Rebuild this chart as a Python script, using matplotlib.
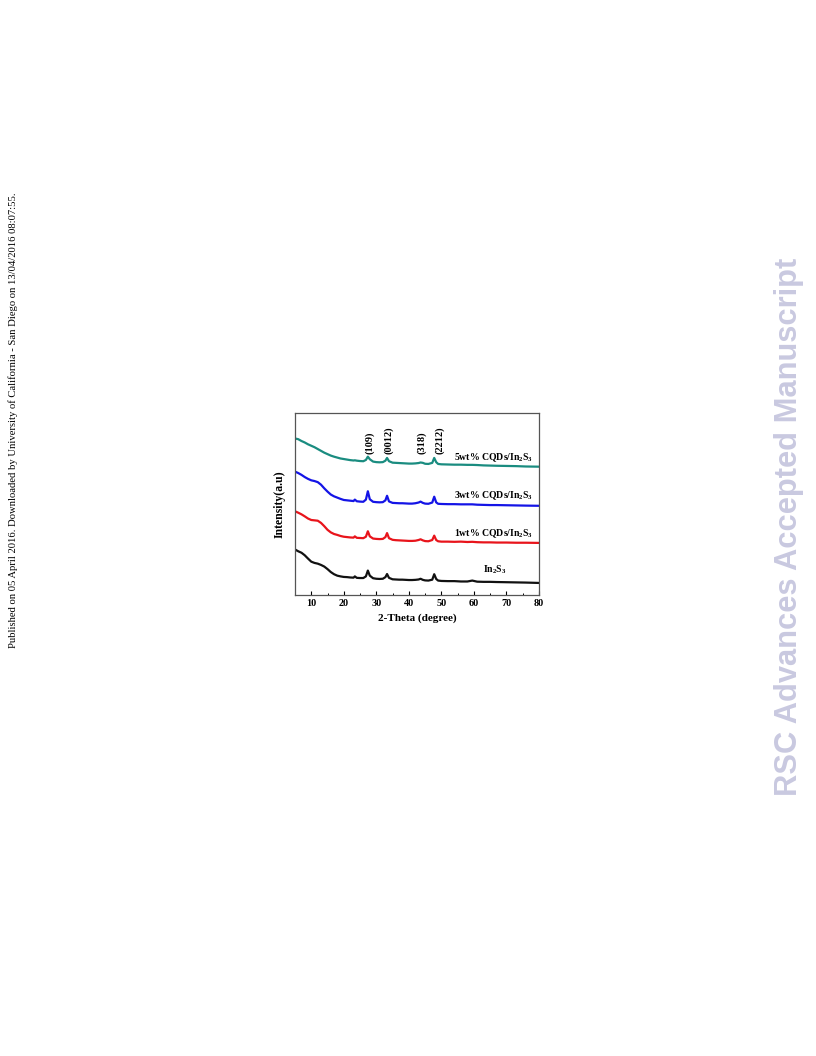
import matplotlib
matplotlib.use("Agg")
import matplotlib.pyplot as plt
from matplotlib.ticker import MultipleLocator

# 2-theta grid (degree)
two_theta = [5, 6, 7, 8, 9, 10, 11, 12, 13, 14, 15, 16, 17, 18, 19, 20, 21, 22, 23,
             23.4, 24, 25, 26, 26.8, 27.4, 28, 29, 30, 31, 32, 32.8, 33.3, 33.9,
             35, 36, 37, 38, 39, 40, 41, 42, 43, 43.6, 44.3, 45, 46, 47.2, 47.8, 48.4,
             49, 50, 52, 54, 56, 58, 59.5, 61, 63, 65, 67, 70, 73, 76, 80]

# intensity (a.u., stacked)
in2s3 = [25.0, 24.0, 23.2, 21.8, 20.0, 18.3, 17.6, 17.2, 16.5, 15.6, 14.2, 12.6, 11.4, 10.6, 10.2, 9.9, 9.8, 9.6, 9.5,
         10.2, 9.4, 9.3, 9.3, 10.2, 13.4, 10.6, 9.2, 8.9, 8.8, 8.9, 9.8, 11.5, 9.4,
         8.6, 8.5, 8.4, 8.4, 8.3, 8.2, 8.2, 8.3, 8.5, 8.9, 8.3, 8.0, 7.9, 8.4, 11.4, 8.8,
         7.9, 7.7, 7.6, 7.6, 7.4, 7.4, 7.9, 7.3, 7.2, 7.2, 7.1, 7.0, 6.9, 6.8, 6.6]
cqd1 = [46.0, 45.2, 44.3, 43.2, 42.0, 41.2, 41.0, 40.8, 39.6, 37.8, 35.8, 34.4, 33.5, 33.0, 32.4, 32.0, 31.8, 31.6, 31.5,
        32.2, 31.4, 31.3, 31.2, 32.0, 35.0, 32.2, 31.0, 30.8, 30.7, 30.8, 31.8, 34.0, 31.2,
        30.3, 30.1, 30.0, 29.9, 29.8, 29.7, 29.7, 29.8, 30.2, 30.6, 30.0, 29.6, 29.5, 30.2, 32.6, 30.2,
        29.5, 29.3, 29.3, 29.2, 29.3, 29.1, 29.2, 29.0, 28.9, 28.9, 28.8, 28.8, 28.7, 28.7, 28.6]
cqd3 = [67.8, 67.0, 66.0, 64.8, 63.8, 63.0, 62.6, 62.0, 60.6, 58.6, 56.8, 55.2, 54.2, 53.5, 52.8, 52.2, 52.0, 51.8, 51.6,
        52.4, 51.5, 51.3, 51.2, 52.4, 57.0, 52.6, 51.2, 51.0, 50.9, 51.0, 52.0, 54.5, 51.4,
        50.6, 50.5, 50.4, 50.4, 50.3, 50.2, 50.2, 50.4, 50.8, 51.3, 50.6, 50.2, 50.1, 50.8, 54.0, 50.9,
        50.1, 50.0, 49.9, 49.9, 49.8, 49.8, 49.8, 49.6, 49.5, 49.4, 49.4, 49.3, 49.2, 49.1, 49.0]
cqd5 = [86.0, 85.6, 84.6, 83.8, 82.8, 82.0, 81.2, 80.2, 79.2, 78.2, 77.4, 76.6, 76.0, 75.5, 75.0, 74.7, 74.4, 74.1, 73.9,
        74.0, 73.8, 73.6, 73.5, 74.2, 76.0, 74.6, 73.3, 73.0, 72.9, 73.0, 73.8, 75.3, 73.5,
        72.7, 72.6, 72.5, 72.4, 72.3, 72.2, 72.2, 72.3, 72.5, 72.8, 72.6, 72.1, 72.0, 72.6, 75.3, 73.0,
        72.0, 71.8, 71.7, 71.6, 71.6, 71.5, 71.5, 71.4, 71.2, 71.1, 71.0, 70.9, 70.8, 70.6, 70.5]

series = [in2s3, cqd1, cqd3, cqd5]
colors = ['#111111', '#e8141b', '#1414e6', '#1a8c80']
labels = ['In$_2$S$_3$', '1wt% CQDs/In$_2$S$_3$', '3wt% CQDs/In$_2$S$_3$', '5wt% CQDs/In$_2$S$_3$']
label_pos = [(66.3, 13.8, 'center'), (78.2, 33.4, 'right'), (78.2, 54.4, 'right'), (78.2, 75.7, 'right')]

peak_labels = ['(109)', '(0012)', '(318)', '(2212)']
peak_x = [27.9, 33.7, 43.8, 49.4]

plt.rcParams['font.family'] = ['Liberation Serif', 'DejaVu Serif']
plt.rcParams['mathtext.fontset'] = 'custom'
plt.rcParams['mathtext.rm'] = 'Liberation Serif:bold'
plt.rcParams['mathtext.default'] = 'rm'

fig = plt.figure(figsize=(8.16, 10.56), dpi=100)
ax = fig.add_axes([0.3615, 0.4366, 0.299, 0.1723])

for ys, c in zip(series, colors):
    ax.plot(two_theta, ys, color=c, linewidth=1.6)

for lab, (lx, ly, ha) in zip(labels, label_pos):
    ax.text(lx, ly, lab, ha=ha, va='center', fontsize=7, fontweight='bold')

for lab, px in zip(peak_labels, peak_x):
    ax.text(px, 77.5, lab, rotation=90, ha='center', va='bottom', fontsize=7.5, fontweight='bold')

ax.set_xlim(5, 80)
ax.set_ylim(0, 100)
ax.set_xticks(range(10, 81, 10))
ax.xaxis.set_minor_locator(MultipleLocator(5))
ax.set_yticks([])
ax.tick_params(axis='x', which='major', direction='in', length=3, width=0.8, labelsize=7.3, pad=3)
ax.tick_params(axis='x', which='minor', direction='in', length=1.8, width=0.7)
for t in ax.get_xticklabels():
    t.set_fontweight('bold')
for s in ax.spines.values():
    s.set_color('#555555')
    s.set_linewidth(0.9)
ax.set_xlabel('2-Theta (degree)', fontsize=8, fontweight='bold', labelpad=4)
ax.set_ylabel('Intensity(a.u)', fontsize=8.5, fontweight='bold', labelpad=7)

fig.text(0.0159, 0.602, 'Published on 05 April 2016. Downloaded by University of California - San Diego on 13/04/2016 08:07:55.',
         rotation=90, ha='center', va='center', fontsize=7.7)
fig.text(0.967, 0.501, 'RSC Advances Accepted Manuscript', rotation=90, ha='center', va='center',
         fontsize=22.2, fontweight='bold', color='#c9c9e0', family=['Liberation Sans', 'DejaVu Sans'])

fig.savefig('out.png', dpi=100)
